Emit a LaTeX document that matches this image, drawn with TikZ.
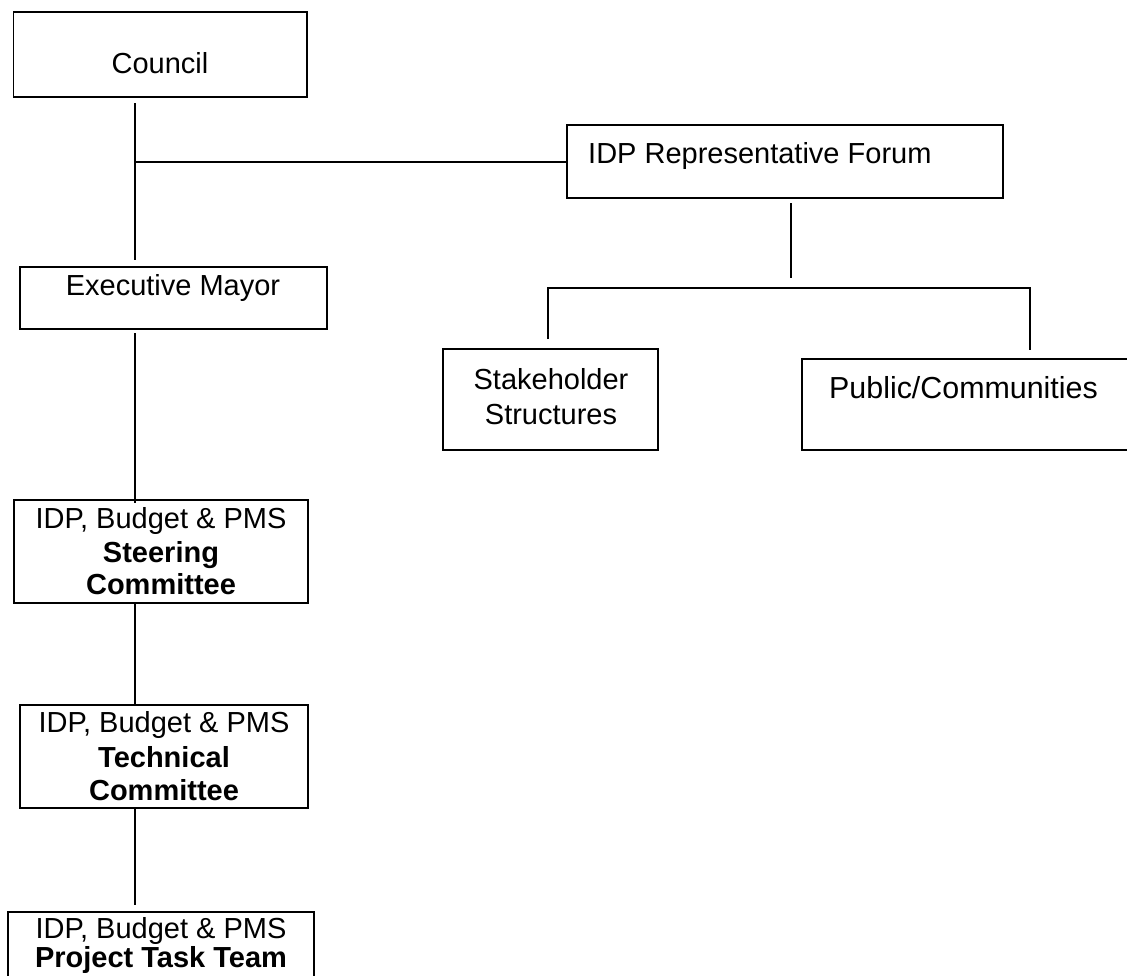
\documentclass[tikz,border=0pt]{standalone}
\usepackage{fontspec}
\setmainfont{Liberation Sans}
\begin{document}
\begin{tikzpicture}[x=1pt,y=1pt,
  box/.style={draw=black, line width=1.9pt, rectangle, inner sep=0pt, outer sep=0pt},
  lbl/.style={font=\fontsize{29}{33.5}\selectfont, inner sep=0pt, anchor=base},
  lblw/.style={font=\fontsize{29}{33.5}\selectfont, inner sep=0pt, anchor=base west},
  conn/.style={draw=black, line width=1.3pt}]
\path[use as bounding box] (0,0) rectangle (1127,-975);
\clip (0,0) rectangle (1127,-975);
% boxes
\node[box, minimum width=293.5, minimum height=85]  (council) at (160.25,-54.5) {};
\node[box, minimum width=436,   minimum height=73]  (forum)   at (785,-161.5) {};
\node[box, minimum width=307,   minimum height=62]  (mayor)   at (173.5,-298) {};
\node[box, minimum width=215,   minimum height=101] (stake)   at (550.5,-399.5) {};
\node[box, minimum width=338,   minimum height=91]  (public)  at (971,-404.5) {};
\node[box, minimum width=294,   minimum height=103] (steer)   at (161,-551.5) {};
\node[box, minimum width=288,   minimum height=103] (tech)    at (164,-756.5) {};
\node[box, minimum width=306,   minimum height=78]  (proj)    at (161,-951) {};
% texts
\node[lbl]  (tcouncil) at (160,-73) {Council};
\node[lblw] (tforum)   at (588,-163) {IDP Representative Forum};
\node[lbl]  (tmayor)   at (173,-295) {Executive Mayor};
\node[lbl]  (tstake1)  at (551,-389) {Stakeholder};
\node[lbl]  (tstake2)  at (551,-424) {Structures};
\node[lblw, font=\fontsize{30.4}{33.5}\selectfont] (tpublic) at (829,-398) {Public/Communities};
\node[lbl]  (tsteer1)  at (161,-528) {IDP, Budget \& PMS};
\node[lbl]  (tsteer2)  at (161,-562) {\bfseries Steering};
\node[lbl]  (tsteer3)  at (161,-594) {\bfseries Committee};
\node[lbl]  (ttech1)   at (164,-732) {IDP, Budget \& PMS};
\node[lbl]  (ttech2)   at (164,-767) {\bfseries Technical};
\node[lbl]  (ttech3)   at (164,-800) {\bfseries Committee};
\node[lbl]  (tproj1)   at (161,-938) {IDP, Budget \& PMS};
\node[lbl]  (tproj2)   at (161,-967) {\bfseries Project Task Team};
% connector points
\coordinate (a1) at (135,-103);
\coordinate (a2) at (135,-260);
\coordinate (aj) at (135,-162);
\coordinate (b1) at (135,-333);
\coordinate (b2) at (135,-503);
\coordinate (c1) at (135,-603);
\coordinate (c2) at (135,-705);
\coordinate (d1) at (135,-808);
\coordinate (d2) at (135,-905);
\coordinate (f1) at (791,-203);
\coordinate (f2) at (791,-278);
\coordinate (hl) at (548,-288);
\coordinate (hr) at (1030,-288);
\coordinate (sl) at (548,-339);
\coordinate (pr) at (1030,-350);
% connectors
\draw[conn] (a1) -- (a2);
\draw[conn] (aj) -- (aj -| forum.west);
\draw[conn] (b1) -- (b2);
\draw[conn] (c1) -- (c2);
\draw[conn] (d1) -- (d2);
\draw[conn] (f1) -- (f2);
\draw[conn] (sl) -- (hl) -- (hr) -- (pr);
\end{tikzpicture}
\end{document}
